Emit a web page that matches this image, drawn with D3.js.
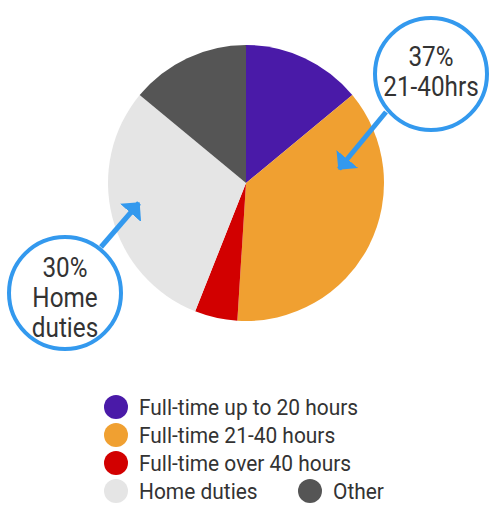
<!DOCTYPE html>
<html>
<head>
<meta charset="utf-8">
<script src="https://cdn.jsdelivr.net/npm/d3@7"></script>
<style>
  body { margin: 0; background: #fff; }
  text { font-family: Roboto, "Noto Sans", sans-serif; fill: #333; }
</style>
</head>
<body>
<script>
var categories = ["Full-time up to 20 hours", "Full-time 21-40 hours", "Full-time over 40 hours", "Home duties", "Other"];
var values = [14, 37, 5, 30, 14];
var colors = ["#4a1aa8", "#f0a031", "#d20000", "#e5e5e5", "#555555"];

var width = 490, height = 508;
var svg = d3.select("body").append("svg")
    .attr("width", width)
    .attr("height", height);

var data = categories.map(function(c, i) { return { name: c, value: values[i] }; });

var color = d3.scaleOrdinal().domain(categories).range(colors);

var radius = 138;
var pie = d3.pie().sort(null).value(function(d) { return d.value; });
var arc = d3.arc().innerRadius(0).outerRadius(radius);

var g = svg.append("g").attr("transform", "translate(246,183)");

g.selectAll("path")
  .data(pie(data))
  .enter()
  .append("path")
  .attr("d", arc)
  .attr("fill", function(d) { return color(d.data.name); });

// arrow marker (wide, short head)
svg.append("defs").append("marker")
    .attr("id", "head")
    .attr("viewBox", "0 0 14 28")
    .attr("refX", 13)
    .attr("refY", 14)
    .attr("markerWidth", 14)
    .attr("markerHeight", 28)
    .attr("markerUnits", "userSpaceOnUse")
    .attr("orient", "auto")
  .append("path")
    .attr("d", "M0,0 L14,14 L0,28 Z")
    .attr("fill", "#3399ee");

// text is drawn a little condensed, like the original
var squeeze = 0.9;

var callouts = [
  { lines: ["37%", "21-40hrs"], cx: 431, cy: 74, base: 66, from: [386, 112], to: [339, 169] },
  { lines: ["30%", "Home", "duties"], cx: 65, cy: 293, base: 277, from: [101, 247], to: [139, 203] }
];

callouts.forEach(function(c) {
  svg.append("line")
    .attr("x1", c.from[0]).attr("y1", c.from[1])
    .attr("x2", c.to[0]).attr("y2", c.to[1])
    .attr("stroke", "#3399ee")
    .attr("stroke-width", 5)
    .attr("marker-end", "url(#head)");
  svg.append("circle")
    .attr("cx", c.cx).attr("cy", c.cy)
    .attr("r", 56)
    .attr("fill", "#fff")
    .attr("stroke", "#3399ee")
    .attr("stroke-width", 4);
  c.lines.forEach(function(l, i) {
    svg.append("text")
      .attr("transform", "translate(" + c.cx + "," + (c.base + i * 30) + ") scale(" + squeeze + ",1)")
      .attr("text-anchor", "middle")
      .style("font-size", "27px")
      .text(l);
  });
});

// legend
var legendPos = [[116, 407], [116, 435], [116, 463], [116, 491], [310, 491]];
var legend = svg.selectAll(".legend")
  .data(categories)
  .enter()
  .append("g")
  .attr("class", "legend")
  .attr("transform", function(d, i) { return "translate(" + legendPos[i][0] + "," + legendPos[i][1] + ")"; });

legend.append("circle")
  .attr("r", 12)
  .attr("fill", function(d) { return color(d); });

legend.append("text")
  .attr("transform", "translate(23,8) scale(0.93,1)")
  .style("font-size", "22.5px")
  .text(function(d) { return d; });
</script>
</body>
</html>
